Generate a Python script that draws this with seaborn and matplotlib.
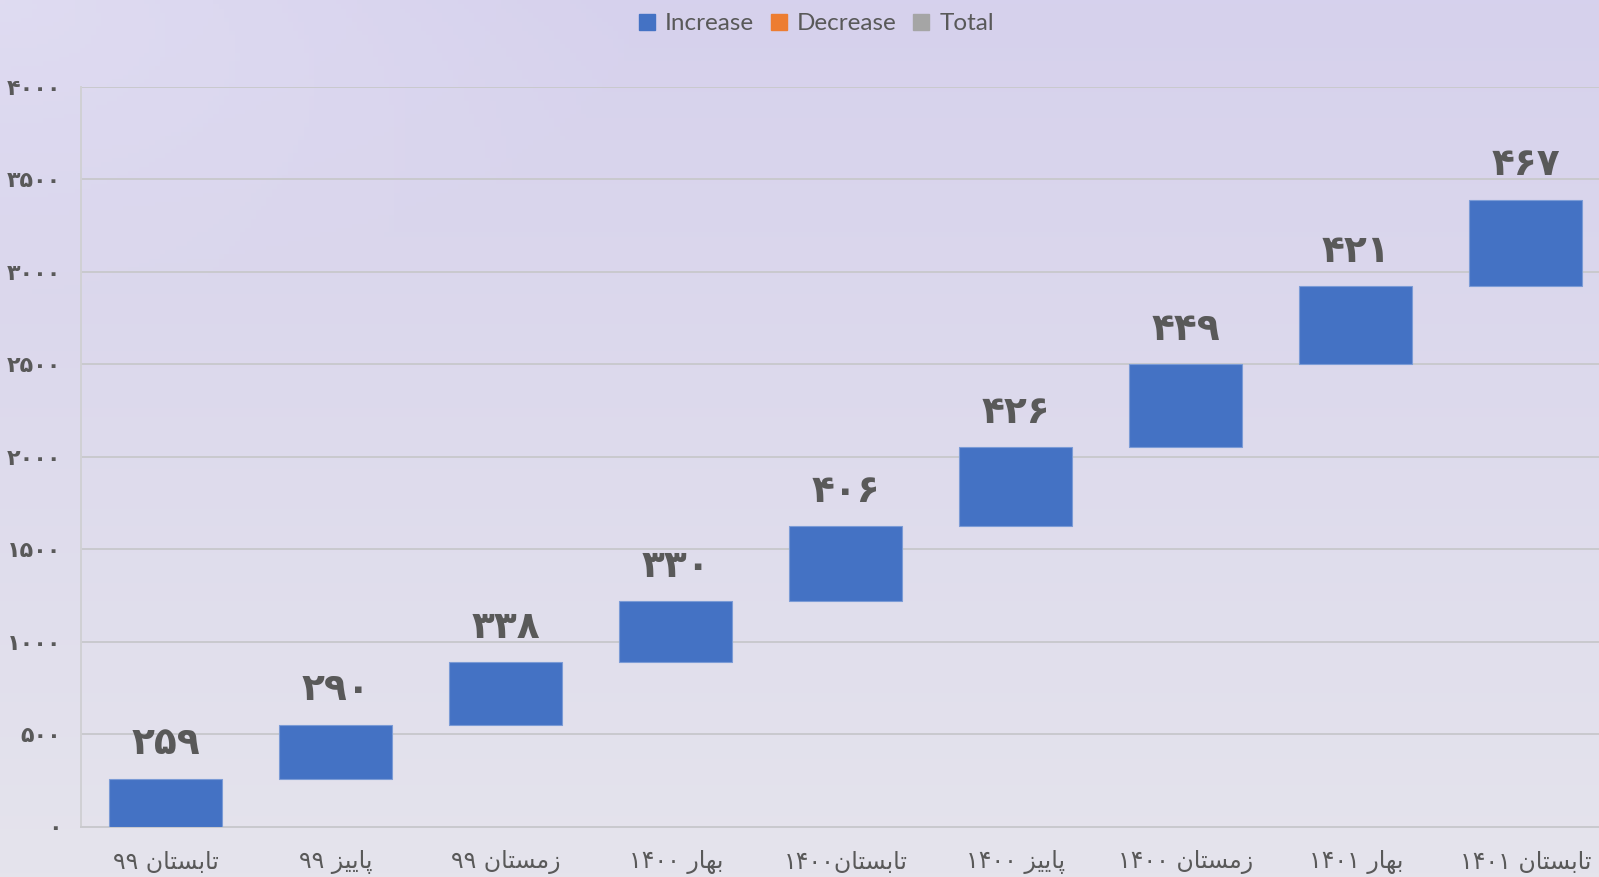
import re
import numpy as np
import pandas as pd
import matplotlib
matplotlib.use("Agg")
import matplotlib.pyplot as plt
from matplotlib.lines import Line2D
import seaborn as sns

# ---------------- data ----------------
categories = ["تابستان ۹۹", "پاییز ۹۹", "زمستان ۹۹", "بهار ۱۴۰۰", "تابستان۱۴۰۰",
              "پاییز ۱۴۰۰", "زمستان ۱۴۰۰", "بهار ۱۴۰۱", "تابستان ۱۴۰۱"]
values = [259, 290, 338, 330, 406, 426, 449, 421, 467]
value_labels = ["۲۵۹", "۲۹۰", "۳۳۸", "۳۳۰", "۴۰۶", "۴۲۶", "۴۴۹", "۴۲۱", "۴۶۷"]
y_ticks = [0, 500, 1000, 1500, 2000, 2500, 3000, 3500, 4000]
y_tick_labels = ["۰", "۵۰۰", "۱۰۰۰", "۱۵۰۰", "۲۰۰۰", "۲۵۰۰", "۳۰۰۰", "۳۵۰۰", "۴۰۰۰"]
legend_labels = ["Increase", "Decrease", "Total"]
legend_colors = ["#4472C4", "#ED7D31", "#A5A5A5"]

# ---------------- simple Persian shaping (presentation forms) ----------------
FORMS = {
    'ا': ('\uFE8D', '\uFE8E', None, None),
    'ب': ('\uFE8F', '\uFE90', '\uFE91', '\uFE92'),
    'پ': ('\uFB56', '\uFB57', '\uFB58', '\uFB59'),
    'ت': ('\uFE95', '\uFE96', '\uFE97', '\uFE98'),
    'ر': ('\uFEAD', '\uFEAE', None, None),
    'ز': ('\uFEAF', '\uFEB0', None, None),
    'س': ('\uFEB1', '\uFEB2', '\uFEB3', '\uFEB4'),
    'م': ('\uFEE1', '\uFEE2', '\uFEE3', '\uFEE4'),
    'ن': ('\uFEE5', '\uFEE6', '\uFEE7', '\uFEE8'),
    'ه': ('\uFEE9', '\uFEEA', '\uFEEB', '\uFEEC'),
    'ی': ('\uFBFC', '\uFBFD', '\uFBFE', '\uFBFF'),
}


def shape(word):
    out = []
    for i, ch in enumerate(word):
        if ch not in FORMS:
            out.append(ch)
            continue
        iso, fin, ini, med = FORMS[ch]
        prev = word[i - 1] if i > 0 else None
        nxt = word[i + 1] if i + 1 < len(word) else None
        jp = prev in FORMS and FORMS[prev][2] is not None
        jn = nxt in FORMS and ini is not None
        if jp and jn:
            out.append(med)
        elif jp:
            out.append(fin)
        elif jn:
            out.append(ini)
        else:
            out.append(iso)
    return ''.join(out)


def rtl(text):
    runs = re.findall(r'[۰-۹0-9]+|[^۰-۹0-9]+', text)
    vis = []
    for r in reversed(runs):
        if re.fullmatch(r'[۰-۹0-9]+', r):
            vis.append(r)
        else:
            vis.append(shape(r)[::-1])
    return ''.join(vis)


# ---------------- waterfall bases ----------------
ends = np.cumsum(values)
starts = ends - np.array(values)
df = pd.DataFrame({"cat": categories, "val": values})

W, H = 1599, 877
fig = plt.figure(figsize=(W / 100, H / 100), dpi=100)

# background gradient
bg = fig.add_axes([0, 0, 1, 1], zorder=-10)
bg.axis("off")
yy = np.linspace(0, 1, 200)[:, None]
xx = np.linspace(0, 1, 300)[None, :]
top = np.array([214, 209, 237]) / 255
bot = np.array([229, 228, 236]) / 255
grad = top[None, None, :] * (1 - yy[..., None]) + bot[None, None, :] * yy[..., None]
corner = np.clip(1 - np.sqrt((xx * 2.5) ** 2 + (yy * 3.0) ** 2), 0, 1)[..., None]
grad = grad * (1 - 0.5 * corner) + np.array([232, 230, 246])[None, None, :] / 255 * 0.5 * corner
grad = grad * np.ones((1, 300, 1))
bg.imshow(grad, aspect="auto", extent=[0, 1, 0, 1], origin="upper")
bg.set_xlim(0, 1)
bg.set_ylim(0, 1)

ax = fig.add_axes([80.7 / W, 50.5 / H, 9 * 170 / W, 740 / H])
ax.set_facecolor("none")

sns.barplot(data=df, x="cat", y="val", bottom=starts, color="#4472C4",
            saturation=1, width=0.665, ax=ax, errorbar=None, zorder=3,
            edgecolor="#7B9BD6", linewidth=0.8)

ax.set_xlim(-0.5, 8.5)
ax.set_ylim(0, 4000)
ax.set_yticks(y_ticks)
ax.set_yticklabels(y_tick_labels, fontsize=16, fontweight="bold", color="#595959",
                   family="DejaVu Sans")
ax.set_xticks(range(len(categories)))
ax.set_xticklabels([rtl(c) for c in categories], fontsize=17, color="#595959",
                   family="DejaVu Sans")
ax.tick_params(axis="both", length=0)
ax.tick_params(axis="y", pad=14)
ax.tick_params(axis="x", pad=17)
ax.set_xlabel("")
ax.set_ylabel("")

ax.grid(axis="y", color="#C9C9CE", linewidth=1.4, zorder=0)
ax.set_axisbelow(True)
for s in ["top", "right"]:
    ax.spines[s].set_visible(False)
ax.spines["left"].set_color("#D0D0D4")
ax.spines["left"].set_linewidth(1.4)
ax.spines["bottom"].set_color("#C9C9CE")
ax.spines["bottom"].set_linewidth(1.4)

for i, (e, lab) in enumerate(zip(ends, value_labels)):
    ax.annotate(lab, (i, e), xytext=(0, 12), textcoords="offset points",
                ha="center", va="bottom", fontsize=27, fontweight="bold",
                color="#595959", family="DejaVu Sans")

handles = [Line2D([0], [0], marker="s", linestyle="none", markersize=12,
                  markerfacecolor=c, markeredgecolor=c) for c in legend_colors]
fig.legend(handles, legend_labels, loc="center", bbox_to_anchor=(0.51, 0.973),
           ncol=3, frameon=False, labelcolor="#595959", handlelength=0.8,
           handletextpad=0.35, columnspacing=0.6, prop={"family": "Lato", "size": 17.5})

fig.savefig("out.png", dpi=100)
